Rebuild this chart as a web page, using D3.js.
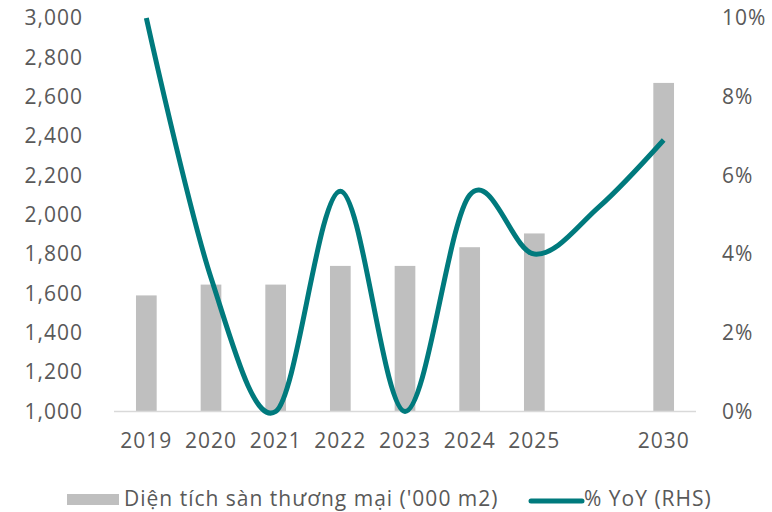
<!DOCTYPE html>
<html>
<head>
<meta charset="utf-8">
<script src="https://cdn.jsdelivr.net/npm/d3@7"></script>
<style>
  body { margin: 0; background: #fff; }
  text { font-family: "Open Sans", sans-serif; fill: #595959; letter-spacing: 1px; }
</style>
</head>
<body>
<script>
// categories (blank slot between 2025 and 2030)
var years = ['2019', '2020', '2021', '2022', '2023', '2024', '2025', '', '2030']
var area = [1590, 1645, 1645, 1740, 1740, 1835, 1905, null, 2670]   // '000 m2
var yoy = [10.0, 3.4, 0.0, 5.6, 0.0, 5.5, 4.0, 5.2, 6.9]           // %
var leftTicks = [1000, 1200, 1400, 1600, 1800, 2000, 2200, 2400, 2600, 2800, 3000]
var rightTicks = [0, 2, 4, 6, 8, 10]

var W = 772, H = 512
var margin = {top: 18, right: 76, bottom: 100.5, left: 114}
  , width = W - margin.left - margin.right
  , height = H - margin.top - margin.bottom

var svg = d3.select('body').append('svg')
    .attr('width', W)
    .attr('height', H)

var g = svg.append('g')
    .attr('transform', 'translate(' + margin.left + ',' + margin.top + ')')

var x = d3.scaleBand()
    .domain(d3.range(years.length))
    .range([0, width])
    .paddingInner(0.68)
    .paddingOuter(0.34)

var yL = d3.scaleLinear().domain([1000, 3000]).range([height, 0])
var yR = d3.scaleLinear().domain([0, 10]).range([height, 0])

// bars
g.append('g').selectAll('rect')
    .data(area.map(function(v, i) { return {i: i, v: v} }).filter(function(d) { return d.v != null }))
    .enter().append('rect')
    .attr('x', function(d) { return x(d.i) })
    .attr('width', x.bandwidth())
    .attr('y', function(d) { return yL(d.v) })
    .attr('height', function(d) { return height - yL(d.v) })
    .attr('fill', '#bfbfbf')

// baseline
g.append('line')
    .attr('x1', 0).attr('x2', width)
    .attr('y1', height).attr('y2', height)
    .attr('stroke', '#d9d9d9')
    .attr('stroke-width', 1.5)

// left axis
var la = g.append('g').call(d3.axisLeft(yL).tickValues(leftTicks).tickFormat(d3.format(',')).tickSize(0).tickPadding(31))
la.select('.domain').remove()
la.selectAll('text').attr('font-size', '21px').attr('fill', '#595959').attr('font-family', '"Open Sans", sans-serif')

// right axis
var ra = g.append('g').attr('transform', 'translate(' + width + ',0)')
    .call(d3.axisRight(yR).tickValues(rightTicks).tickFormat(function(d) { return d + '%' }).tickSize(0).tickPadding(26))
ra.select('.domain').remove()
ra.selectAll('text').attr('font-size', '21px').attr('fill', '#595959').attr('font-family', '"Open Sans", sans-serif')

// x axis
var xa = g.append('g').attr('transform', 'translate(0,' + height + ')')
    .call(d3.axisBottom(x).tickFormat(function(i) { return years[i] }).tickSize(0).tickPadding(22))
xa.select('.domain').remove()
xa.selectAll('text').attr('font-size', '21px').attr('fill', '#595959').attr('font-family', '"Open Sans", sans-serif')

// smoothed line
var line = d3.line()
    .x(function(d, i) { return x(i) + x.bandwidth() / 2 })
    .y(function(d) { return yR(d) })
    .curve(d3.curveCardinal.tension(0))

g.append('path')
    .datum(yoy)
    .attr('d', line)
    .attr('fill', 'none')
    .attr('stroke', '#007a7d')
    .attr('stroke-width', 5)

// legend
var lg = svg.append('g')
lg.append('rect').attr('x', 67).attr('y', 494).attr('width', 52).attr('height', 11).attr('fill', '#bfbfbf')
lg.append('text').attr('x', 124).attr('y', 506).attr('font-size', '21px').text("Diện tích sàn thương mại ('000 m2)")
lg.append('line').attr('x1', 531).attr('x2', 582).attr('y1', 501).attr('y2', 501)
    .attr('stroke', '#007a7d').attr('stroke-width', 5).attr('stroke-linecap', 'round')
lg.append('text').attr('x', 584).attr('y', 506).attr('font-size', '21px').text('% YoY (RHS)')
</script>
</body>
</html>
